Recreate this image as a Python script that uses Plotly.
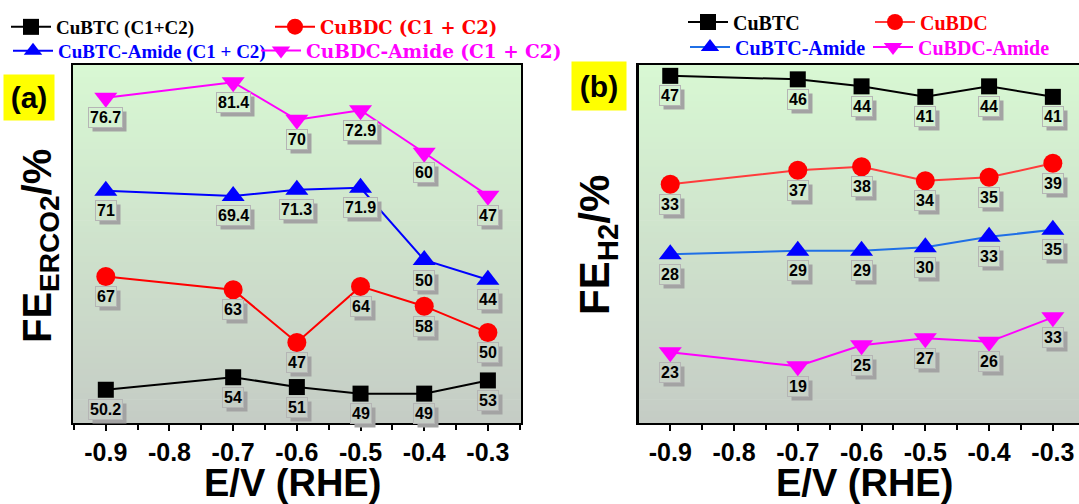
import plotly.graph_objects as go

# ---------------- data ----------------
potential = [-0.9, -0.7, -0.6, -0.5, -0.4, -0.3]
x_tick_vals = [-0.9, -0.8, -0.7, -0.6, -0.5, -0.4, -0.3]
x_tick_text = ["-0.9", "-0.8", "-0.7", "-0.6", "-0.5", "-0.4", "-0.3"]

# Faradaic efficiency of CO2 reduction products (C1 + C2), %
co2_cubtc = [50.2, 54, 51, 49, 49, 53]
co2_cubdc = [67, 63, 47, 64, 58, 50]
co2_cubtc_amide = [71, 69.4, 71.3, 71.9, 50, 44]
co2_cubdc_amide = [76.7, 81.4, 70, 72.9, 60, 47]

# Faradaic efficiency of H2, %
h2_cubtc = [47, 46, 44, 41, 44, 41]
h2_cubdc = [33, 37, 38, 34, 35, 39]
h2_cubtc_amide = [28, 29, 29, 30, 33, 35]
h2_cubdc_amide = [23, 19, 25, 27, 26, 33]

# vertical offsets (in % units) used to separate the stacked curves
co2_offsets = [-62, -44.5, -22.5, 0]
h2_offsets = [0, -17, -32, -55]

W, H = 1079, 504
TOP_PX, BOT_PX = 65, 423


def px(x):
    return x / W


def py(y):
    return 1 - y / H


LABEL_FONT = "Arial, Liberation Sans, sans-serif"
SERIF = "Times New Roman, Liberation Serif, serif"
WIDE_SERIF = "DejaVu Serif, serif"

GRAD_TOP = (216, 248, 211)
GRAD_BOT = (197, 204, 197)


def grad_color(f):
    f = min(max(f, 0.0), 1.0)
    c = [round(a + (b - a) * f) for a, b in zip(GRAD_TOP, GRAD_BOT)]
    return "rgb(%d,%d,%d)" % tuple(c)


panels = [
    dict(
        xaxis="x", yaxis="y",
        xdomain=[px(72.7), px(521)], xrange=[-0.952, -0.248],
        yrange=[-21.9, 86.6],
        series=[
            dict(name="CuBTC (C1+C2)", vals=co2_cubtc, off=co2_offsets[0],
                 color="#000000", line="#000000", symbol="square", size=16,
                 leg=(58, 27), tcolor="#000000", lfont=SERIF, lsize=19),
            dict(name="CuBDC (C1 + C2)", vals=co2_cubdc, off=co2_offsets[1],
                 color="#ff0000", line="#ff0000", symbol="circle", size=19,
                 leg=(322, 27), tcolor="#ff0000", lfont=WIDE_SERIF, lsize=18),
            dict(name="CuBTC-Amide (C1 + C2)", vals=co2_cubtc_amide, off=co2_offsets[2],
                 color="#0000ff", line="#0000ff", symbol="triangle-up", size=20,
                 leg=(60, 51), tcolor="#0000ff", lfont=SERIF, lsize=19),
            dict(name="CuBDC-Amide (C1 + C2)", vals=co2_cubdc_amide, off=co2_offsets[3],
                 color="#ff00ff", line="#ff00ff", symbol="triangle-down", size=20,
                 leg=(308, 51), tcolor="#ff00ff", lfont=WIDE_SERIF, lsize=18.5),
        ],
    ),
    dict(
        xaxis="x2", yaxis="y2",
        xdomain=[px(639), 1.0], xrange=[-0.949, -0.259],
        yrange=[-52.2, 50.1],
        series=[
            dict(name="CuBTC", vals=h2_cubtc, off=h2_offsets[0],
                 color="#000000", line="#000000", symbol="square", size=16,
                 leg=(735, 22), tcolor="#000000", lfont=SERIF, lsize=20),
            dict(name="CuBDC", vals=h2_cubdc, off=h2_offsets[1],
                 color="#ff0000", line="#ff3b3b", symbol="circle", size=19,
                 leg=(922, 22), tcolor="#ff0000", lfont=SERIF, lsize=20),
            dict(name="CuBTC-Amide", vals=h2_cubtc_amide, off=h2_offsets[2],
                 color="#0000ff", line="#1f6fe6", symbol="triangle-up", size=20,
                 leg=(737, 47), tcolor="#0000ff", lfont=SERIF, lsize=20),
            dict(name="CuBDC-Amide", vals=h2_cubdc_amide, off=h2_offsets[3],
                 color="#ff00ff", line="#ff00ff", symbol="triangle-down", size=20,
                 leg=(920, 47), tcolor="#ff00ff", lfont=SERIF, lsize=20),
        ],
    ),
]

fig = go.Figure()
shapes = []
annotations = []
legends = {}
leg_idx = 0
ydom = [py(BOT_PX), py(TOP_PX)]

for p in panels:
    xa, ya = p["xaxis"], p["yaxis"]
    y0, y1 = p["yrange"]

    # green-to-grey gradient behind the plot area
    n = 60
    for i in range(n):
        shapes.append(dict(
            type="rect", xref=f"{xa} domain", yref=f"{ya} domain",
            x0=0, x1=1, y0=1 - (i + 1) / n - 0.002, y1=1 - i / n,
            fillcolor=grad_color((i + 0.5) / n), line=dict(width=0), layer="below",
        ))

    for s in p["series"]:
        leg_idx += 1
        lname = "legend" if leg_idx == 1 else f"legend{leg_idx}"
        yvals = [v + s["off"] for v in s["vals"]]
        fig.add_trace(go.Scatter(
            x=potential, y=yvals, xaxis=xa, yaxis=ya, name=s["name"],
            mode="lines+markers", legend=lname,
            line=dict(color=s["line"], width=2),
            marker=dict(color=s["color"], symbol=s["symbol"], size=s["size"],
                        line=dict(width=0)),
            hoverinfo="skip",
        ))
        lx, ly = s["leg"]
        legends[lname] = dict(
            x=px(lx - 52), y=py(ly), xanchor="left", yanchor="middle",
            bgcolor="rgba(0,0,0,0)", borderwidth=0, itemwidth=40,
            font=dict(family=s["lfont"], size=s["lsize"], color=s["tcolor"], weight="bold"),
        )

        # value labels with a drop-shadow box under each point
        for x, v, yv in zip(potential, s["vals"], yvals):
            txt = f"{v:g}"
            frac = (y1 - yv) / (y1 - y0) + 20 / (BOT_PX - TOP_PX)
            common = dict(x=x, y=yv, xref=xa, yref=ya, text=txt, showarrow=False,
                          xanchor="center", yanchor="middle",
                          borderpad=1, borderwidth=1)
            annotations.append(dict(
                common, xshift=4, yshift=-24, bgcolor="#a3a3a3",
                bordercolor="rgba(0,0,0,0)",
                font=dict(family=LABEL_FONT, size=16, color="rgba(0,0,0,0)", weight="bold"),
            ))
            annotations.append(dict(
                common, yshift=-20, bgcolor=grad_color(frac), bordercolor="#b5b5b5",
                font=dict(family=LABEL_FONT, size=16, color="#000000", weight="bold"),
            ))

# axis titles and panel tags
centered = dict(xref="paper", yref="paper", showarrow=False,
                xanchor="center", yanchor="middle")
annotations += [
    dict(centered, x=px(40), y=py(246), textangle=-90,
         text="FE<sub>ERCO2</sub>/%",
         font=dict(family=LABEL_FONT, size=40, color="#000000", weight="bold")),
    dict(centered, x=px(597), y=py(245), textangle=-90,
         text="FE<sub>H2</sub>/%",
         font=dict(family=LABEL_FONT, size=42, color="#000000", weight="bold")),
    dict(centered, x=px(292), y=py(483), text="E/V (RHE)",
         font=dict(family=LABEL_FONT, size=38, color="#000000", weight="bold")),
    dict(centered, x=px(864), y=py(483), text="E/V (RHE)",
         font=dict(family=LABEL_FONT, size=38, color="#000000", weight="bold")),
    dict(centered, x=px(29), y=py(98), text="(a)", bgcolor="#ffff00", width=48, height=43,
         font=dict(family=LABEL_FONT, size=30, color="#000000", weight="bold")),
    dict(centered, x=px(599), y=py(86), text="(b)", bgcolor="#ffff00", width=52, height=46,
         font=dict(family=LABEL_FONT, size=30, color="#000000", weight="bold")),
]

xaxis_common = dict(
    tickvals=x_tick_vals, ticktext=x_tick_text, ticks="outside", ticklen=6, tickwidth=2,
    tickcolor="#000000", showline=True, linecolor="#000000", linewidth=2,
    showgrid=False, zeroline=False, ticklabelstandoff=0,
    minor=dict(dtick=0.05, tick0=-0.9, ticks="outside", ticklen=5, tickwidth=2,
               tickcolor="#000000", showgrid=False),
    tickfont=dict(family=LABEL_FONT, size=25, color="#000000", weight="bold"),
)
yaxis_common = dict(showticklabels=False, ticks="", showgrid=False, zeroline=False,
                    showline=True, linecolor="#000000")

layout = dict(
    width=W, height=H, margin=dict(l=0, r=0, t=0, b=0),
    paper_bgcolor="#ffffff", plot_bgcolor="rgba(0,0,0,0)",
    showlegend=True,
    xaxis=dict(xaxis_common, domain=panels[0]["xdomain"], range=panels[0]["xrange"],
               anchor="y", mirror=True),
    yaxis=dict(yaxis_common, domain=ydom, range=panels[0]["yrange"], anchor="x",
               mirror=True, linewidth=2),
    xaxis2=dict(xaxis_common, domain=panels[1]["xdomain"], range=panels[1]["xrange"],
                anchor="y2", mirror=True),
    yaxis2=dict(yaxis_common, domain=ydom, range=panels[1]["yrange"], anchor="x2",
                mirror=False, linewidth=3),
    shapes=shapes,
    annotations=annotations,
)
layout.update(legends)
fig.update_layout(**layout)

fig.write_html("out.html")
